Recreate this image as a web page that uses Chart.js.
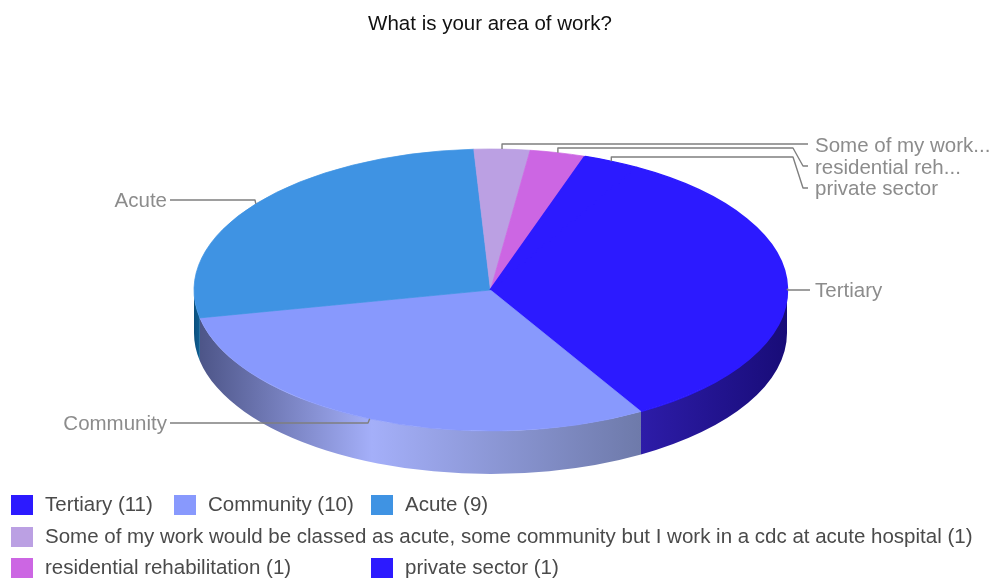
<!DOCTYPE html>
<html>
<head>
<meta charset="utf-8">
<style>
  html, body { margin: 0; padding: 0; background: #fff; }
  canvas { display: block; }
</style>
<script src="https://cdn.jsdelivr.net/npm/chart.js@4/dist/chart.umd.min.js"></script>
</head>
<body>
<canvas id="pie" width="991" height="579"></canvas>
<script>
const chartTitle = 'What is your area of work?';
const categories = [
  'Tertiary',
  'Community',
  'Acute',
  'Some of my work would be classed as acute, some community but I work in a cdc at acute hospital',
  'residential rehabilitation',
  'private sector'
];
const counts = [11, 10, 9, 1, 1, 1];
const sliceColors = ['#2c1aff', '#8899fd', '#3f93e3', '#bba0e3', '#cc66e3', '#2c1aff'];
const calloutNames = ['Tertiary', 'Community', 'Acute', 'Some of my work...', 'residential reh...', 'private sector'];
// Tertiary and private sector share a colour, so their edges are thickened to close the seam
const sliceEdges = [2.5, 1, 1, 1, 1, 2.5];

// Rim shading for the slices that reach the front of the disc: [offset, colour]
const rimShades = [
  [[0, '#2d1ca8'], [1, '#180c78']],
  [[0, '#4d5588'], [0.39, '#a4aff9'], [1, '#6e7aaa']],
  [[0, '#0b4f7c'], [1, '#0f5f94']],
  [[0, '#6f5c8a'], [1, '#6f5c8a']],
  [[0, '#7a3d8a'], [1, '#7a3d8a']],
  [[0, '#180c78'], [1, '#180c78']]
];

// Disc geometry on the page
const disc = { x: 490.5, y: 290, rx: 296.5, ry: 141, depth: 43 };
const FONT = '"Liberation Sans", Arial, sans-serif';
const TEXT_SIZE = 20.5;
const LABEL_GREY = '#8c8c8c';
const LEADER_GREY = '#7f7f7f';
const LEGEND_TEXT = '#4a4a4a';

// Where each callout's leader runs after leaving the rim, and where its text sits
const callouts = [
  { route: [[788, 290], [810, 290]], text: [815, 291], align: 'left' },
  { route: [[368, 423], [170, 423]], text: [167, 424], align: 'right' },
  { route: [[255, 200], [170, 200]], text: [167, 201], align: 'right' },
  { route: [null, [808, 144]], rise: 144, text: [815, 146], align: 'left' },
  { route: [null, [793, 148], [803, 166], [808, 166]], rise: 148, text: [815, 168], align: 'left' },
  { route: [null, [793, 157], [803, 188], [808, 188]], rise: 157, text: [815, 189], align: 'left' }
];

// Legend grid: item index, swatch x, text x, row y
const legendCells = [
  [0, 11, 45, 505], [1, 174, 208, 505], [2, 371, 405, 505],
  [3, 11, 45, 537],
  [4, 11, 45, 568], [5, 371, 405, 568]
];

const TAU = Math.PI * 2;

const tiltedDisc = {
  id: 'tiltedDisc',
  beforeDatasetsDraw(chart) {
    const ctx = chart.ctx;
    const arcs = chart.getDatasetMeta(0).data;
    // Rim: the part of every slice that falls on the front half of the ellipse
    arcs.forEach((arc, i) => {
      const a1 = arc.startAngle, a2 = arc.endAngle;
      for (const shift of [0, TAU, -TAU]) {
        const from = Math.max(a1 + shift, 0);
        const to = Math.min(a2 + shift, Math.PI);
        if (to <= from) continue;
        const x1 = disc.x + disc.rx * Math.cos(from);
        const x2 = disc.x + disc.rx * Math.cos(to);
        const grad = ctx.createLinearGradient(Math.min(x1, x2), 0, Math.max(x1, x2), 0);
        rimShades[i].forEach(s => grad.addColorStop(s[0], s[1]));
        ctx.beginPath();
        ctx.ellipse(disc.x, disc.y, disc.rx, disc.ry, 0, from, to);
        ctx.ellipse(disc.x, disc.y + disc.depth, disc.rx, disc.ry, 0, to, from, true);
        ctx.closePath();
        ctx.fillStyle = grad;
        ctx.fill();
      }
    });
    // The library's arcs are drawn through this squash, giving the ellipse
    const first = arcs[0];
    ctx.save();
    ctx.translate(disc.x, disc.y);
    ctx.scale(disc.rx / first.outerRadius, disc.ry / first.outerRadius);
    ctx.translate(-first.x, -first.y);
  },
  afterDatasetsDraw(chart) {
    const ctx = chart.ctx;
    ctx.restore();
    const arcs = chart.getDatasetMeta(0).data;

    // Leaders and callout names
    ctx.lineWidth = 1.4;
    ctx.lineJoin = 'round';
    ctx.strokeStyle = LEADER_GREY;
    ctx.font = TEXT_SIZE + 'px ' + FONT;
    ctx.textBaseline = 'middle';
    arcs.forEach((arc, i) => {
      const mid = (arc.startAngle + arc.endAngle) / 2;
      const c = callouts[i];
      const ax = disc.x + disc.rx * Math.cos(mid);
      const ay = disc.y + disc.ry * Math.sin(mid);
      ctx.beginPath();
      ctx.moveTo(ax, ay);
      c.route.forEach(p => {
        if (p === null) ctx.lineTo(ax, c.rise);
        else ctx.lineTo(p[0], p[1]);
      });
      ctx.stroke();
      ctx.fillStyle = LABEL_GREY;
      ctx.textAlign = c.align;
      ctx.fillText(calloutNames[i], c.text[0], c.text[1]);
    });

    // Legend
    ctx.textAlign = 'left';
    legendCells.forEach(([i, sx, tx, y]) => {
      ctx.fillStyle = sliceColors[i];
      ctx.fillRect(sx, y - 10, 22, 20);
      ctx.fillStyle = LEGEND_TEXT;
      ctx.fillText(categories[i] + ' (' + counts[i] + ')', tx, y);
    });
  }
};

new Chart(document.getElementById('pie'), {
  type: 'pie',
  data: {
    labels: categories,
    datasets: [{
      data: counts,
      backgroundColor: sliceColors,
      borderColor: sliceColors,
      borderWidth: sliceEdges,
      clip: false
    }]
  },
  options: {
    responsive: false,
    animation: false,
    events: [],
    radius: disc.rx,
    rotation: 29.5,
    layout: { padding: { right: 11 } },
    plugins: {
      legend: { display: false },
      tooltip: { enabled: false },
      title: {
        display: true,
        text: chartTitle,
        color: '#111111',
        font: { family: FONT, size: TEXT_SIZE, weight: 'normal' },
        padding: { top: 12, bottom: 0 }
      }
    }
  },
  plugins: [tiltedDisc]
});
</script>
</body>
</html>
